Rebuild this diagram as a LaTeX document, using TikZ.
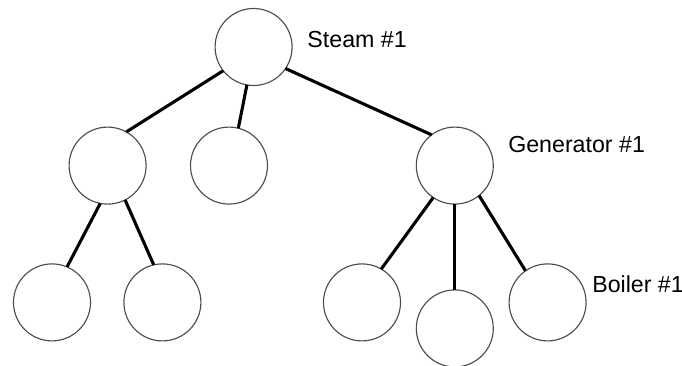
\documentclass[tikz,border=0pt]{standalone}
\usepackage{fontspec}
\setmainfont{Liberation Sans}
\usetikzlibrary{positioning}

\begin{document}
\begin{tikzpicture}
\tikzset{
    unit/.style={circle, draw=black!70, line width=0.8pt, minimum size=1.925cm, inner sep=0pt, outer sep=0pt, fill=white},
    link/.style={line width=2.2pt, black},
    tag/.style={anchor=base west, inner sep=0pt, font=\fontsize{16.5}{19}\selectfont}
}
\useasboundingbox (0,0) rectangle (17.05,9.15);

% Вузли дерева
\node[unit] (T1) at (6.34,7.975) {};
\node[unit] (M1) at (2.69,5.01) {};
\node[unit] (M2) at (5.725,5.01) {};
\node[unit] (M3) at (11.37,5.01) {};
\node[unit] (L1) at (1.3,1.59) {};
\node[unit] (L2) at (4.06,1.59) {};
\node[unit] (L3) at (9.05,1.59) {};
\node[unit] (L4) at (11.37,0.94) {};
\node[unit] (L5) at (13.69,1.59) {};

% Підписи
\node[tag] (steam) at (7.68,7.95) {Steam \#1};
\node[tag] (gen) at (12.7,5.325) {Generator \#1};
\node[tag] (boil) at (14.8,1.825) {Boiler \#1};

% Зв'язки
\draw[link] (T1.218) -- (M1.61);
\draw[link] (T1.260) -- (M2.76);
\draw[link] (T1.-34) -- (M3.127);

\draw[link] (M1.259) -- (L1.67);
\draw[link] (M1.297) -- (L2.103);

\draw[link] (M3.236) -- (L3.60);
\draw[link] (M3.south) -- (L4.north);
\draw[link] (M3.309) -- (L5.125);
\end{tikzpicture}
\end{document}
